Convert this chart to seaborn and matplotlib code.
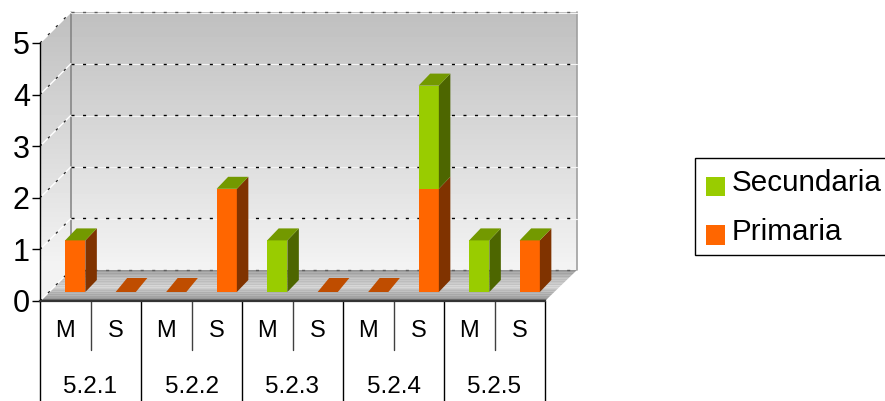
import numpy as np
import pandas as pd
import matplotlib
matplotlib.use("Agg")
import matplotlib.pyplot as plt
from matplotlib.legend_handler import HandlerPatch
from matplotlib.patches import Patch, Polygon, Rectangle
from matplotlib.transforms import blended_transform_factory
import seaborn as sns

# Chart values
groups = ["5.2.1", "5.2.2", "5.2.3", "5.2.4", "5.2.5"]
levels = ["M", "S"]
primaria = [1, 0, 0, 2, 0, 0, 0, 2, 0, 1]
secundaria = [0, 0, 0, 0, 1, 0, 0, 2, 1, 0]
y_ticks = [0, 1, 2, 3, 4, 5]

ORANGE, ORANGE_SIDE = "#ff6600", "#803300"
GREEN, GREEN_SIDE = "#99cc00", "#4d6600"
TOP_FACE = "#739900"
FLAT_FACE = "#bf4d00"

W, H = 885, 401
sns.set_theme(style="white")
plt.rcParams["font.family"] = ["Liberation Sans", "DejaVu Sans"]
plt.rcParams["text.color"] = "black"
fig = plt.figure(figsize=(W / 100, H / 100), dpi=100, facecolor="white")


def px_axes(left, top, right, bottom, **kw):
    return fig.add_axes([left / W, 1 - bottom / H, (right - left) / W, (bottom - top) / H], **kw)


# Pseudo-3D box: canvas in pixel units
scene = px_axes(0, 0, W, H)
scene.set_xlim(0, W)
scene.set_ylim(H, 0)
scene.axis("off")

X0, X1, Y5, Y0, DEPTH = 40, 545, 43, 301, 31
WALL_L, WALL_R = X0 + DEPTH, 577


def gradient(poly_pts, extent, values):
    poly = Polygon(poly_pts, closed=True, transform=scene.transData, fc="none", ec="none")
    scene.add_patch(poly)
    im = scene.imshow(np.asarray(values)[:, None], extent=extent, cmap="gray", vmin=0, vmax=1,
                      aspect="auto", interpolation="nearest", zorder=1)
    im.set_clip_path(poly)


rows = np.linspace(0.75, 0.955, 257)
gradient([(WALL_L, Y5 - DEPTH), (WALL_R, Y5 - DEPTH), (WALL_R, Y0 - DEPTH), (WALL_L, Y0 - DEPTH)],
         (WALL_L, WALL_R, Y0 - DEPTH, Y5 - DEPTH), rows)
side_rows = np.concatenate([rows, np.full(DEPTH + 1, rows[-1])])
gradient([(X0, Y5), (WALL_L, Y5 - DEPTH), (WALL_L, Y0 - DEPTH), (X0, Y0)],
         (X0, WALL_L, Y0, Y5 - DEPTH), side_rows)

# Floor bands, back to front
floor_rows = [0.58, 0.62, 0.68, 0.64, 0.68, 0.72, 0.68, 0.74, 0.78, 0.74, 0.78, 0.74, 0.78, 0.80,
              0.76, 0.80, 0.84, 0.80, 0.84, 0.80, 0.76, 0.72, 0.76, 0.68, 0.72, 0.66, 0.70, 0.64,
              0.64, 0.60, 0.45, 0.30]
gradient([(X0, Y0), (X1, Y0), (WALL_R, Y0 - DEPTH), (WALL_L, Y0 - DEPTH)],
         (X0, WALL_R, Y0, Y0 - DEPTH), floor_rows)

# Wall outlines and grid
scene.plot([WALL_L, WALL_L], [Y5 - DEPTH, Y0 - DEPTH], color="#808080", lw=1.1, zorder=2)
scene.plot([WALL_R, WALL_R], [Y5 - DEPTH, Y0 - DEPTH], color="#a0a0a0", lw=1.2, zorder=2)
unit = (Y0 - Y5) / 5
for v in y_ticks:
    gy = Y0 - v * unit
    scene.plot([X0, WALL_L], [gy, gy - DEPTH], color="white", lw=1.0, zorder=2)
    if v > 0:
        scene.plot([WALL_L, WALL_R], [gy - DEPTH + 0.5] * 2, color="#f5f5f5", lw=0.8, zorder=2)
    shade = "#606060" if v in (0, 5) else "#000000"
    scene.plot([WALL_L, WALL_R], [gy - DEPTH] * 2, color=shade, lw=1.0, dashes=(2.2, 6.1), zorder=3)
    scene.plot([X0, WALL_L], [gy, gy - DEPTH], color="#202020", lw=0.9, dashes=(2, 7), zorder=3)

# Front plane: value axis and category levels
ax = px_axes(X0, Y5, X1, Y0)
ax.patch.set_alpha(0)
ax.set_xlim(-0.5, 9.5)
ax.set_ylim(0, 5)
sns.despine(ax=ax, top=True, right=True)
ax.spines["left"].set_color("black")
ax.spines["left"].set_linewidth(1.0)
ax.spines["bottom"].set_color("#333333")
ax.spines["bottom"].set_linewidth(1.6)
ax.set_yticks(y_ticks)
ax.tick_params(axis="y", length=6, width=1.0, color="black", labelcolor="black",
               labelsize=22, pad=1.3, left=True)
ax.set_xticks(range(10), levels * 5)
ax.tick_params(axis="x", length=0, labelsize=17, pad=13.5, labelcolor="black")
trans = blended_transform_factory(ax.transData, fig.transFigure)
for k in range(11):
    xpos = k - 0.5
    major = k % 2 == 0
    low = 0 if major else 1 - 350 / H
    ax.plot([xpos, xpos], [1 - Y0 / H, low], transform=trans, clip_on=False,
            color="black" if major else "#404040", lw=1.0)
for i, g in enumerate(groups):
    ax.text(2 * i + 0.5, 1 - 387 / H, g, transform=trans, ha="center", va="center",
            fontsize=17.5, color="black")

# Bars sit a little behind the front plane
bar_ax = px_axes(X0 + 10, Y5 - 9, X1 + 10, Y0 - 9)
bar_ax.patch.set_alpha(0)
slots = [f"{g} {m}" for g in groups for m in levels]
table = pd.DataFrame({"slot": slots, "Primaria": primaria, "Secundaria": secundaria})
sns.barplot(data=table, x="slot", y="Primaria", order=slots, color=ORANGE, saturation=1,
            width=0.4, linewidth=0, ax=bar_ax)
n_low = len(bar_ax.patches)
sns.barplot(data=table, x="slot", y="Secundaria", order=slots, color=GREEN, saturation=1,
            width=0.4, linewidth=0, bottom=table["Primaria"].to_numpy(), ax=bar_ax)
bar_ax.set_xlim(-0.5, 9.5)
bar_ax.set_ylim(0, 5)
bar_ax.axis("off")

dx = 11.5 * 10 / (X1 - X0)
dy = 12 * 5 / (Y0 - Y5)
flat_dy = 14 * 5 / (Y0 - Y5)


def side(rect, color):
    x1 = rect.get_x() + rect.get_width()
    y0, y1 = rect.get_y(), rect.get_y() + rect.get_height()
    bar_ax.add_patch(Polygon([(x1, y0), (x1 + dx, y0 + dy), (x1 + dx, y1 + dy), (x1, y1)],
                             fc=color, ec="none", clip_on=False))


def top(rect, color, rise=dy):
    x0, x1 = rect.get_x(), rect.get_x() + rect.get_width()
    y1 = rect.get_y() + rect.get_height()
    bar_ax.add_patch(Polygon([(x0, y1), (x1, y1), (x1 + dx, y1 + rise), (x0 + dx, y1 + rise)],
                             fc=color, ec="none", clip_on=False))


low_bars = bar_ax.patches[:n_low]
high_bars = bar_ax.patches[n_low:n_low * 2]
for lo, hi, p, s in zip(low_bars, high_bars, primaria, secundaria):
    if p + s == 0:
        top(lo, FLAT_FACE, flat_dy)
        continue
    if p:
        side(lo, ORANGE_SIDE)
    if s:
        side(hi, GREEN_SIDE)
    top(hi, TOP_FACE)


# Legend swatches sit lower than the default handle box
def low_swatch(legend, orig_handle, xdescent, ydescent, width, height, fontsize):
    return Rectangle((-xdescent + 1.0, -ydescent - 5.0), width, height)


handles = [Patch(fc=GREEN, ec="none", label="Secundaria"), Patch(fc=ORANGE, ec="none", label="Primaria")]
leg = fig.legend(handles=handles, loc="upper left", bbox_to_anchor=(694.7 / W, 1 - 157.8 / H),
                 borderaxespad=0, fontsize=21.3, frameon=True, fancybox=False, edgecolor="black",
                 framealpha=1, handlelength=0.65, handleheight=0.65, handletextpad=0.25,
                 labelspacing=0.70, borderpad=0.34,
                 handler_map={Patch: HandlerPatch(patch_func=low_swatch)})
leg.get_frame().set_linewidth(1.0)
for label in leg.get_texts():
    label.set_y(-1.4)

fig.savefig("out.png", dpi=100)
